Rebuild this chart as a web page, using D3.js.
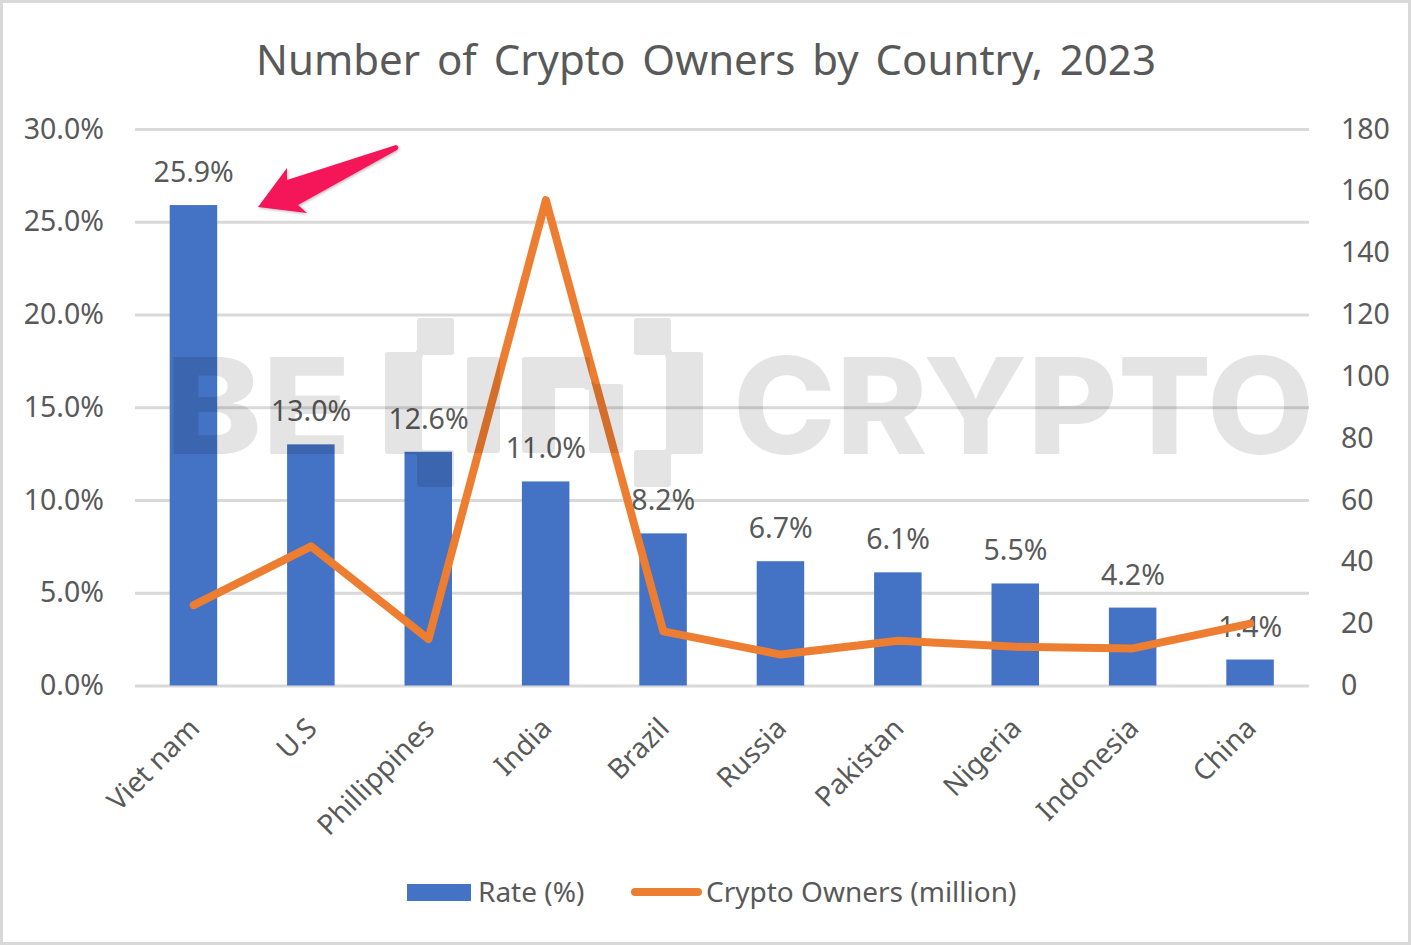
<!DOCTYPE html>
<html>
<head>
<meta charset="utf-8">
<script src="https://cdn.jsdelivr.net/npm/d3@7"></script>
<style>
  html, body { margin: 0; padding: 0; background: #fff; }
  svg { display: block; }
  text { font-family: "Noto Sans", sans-serif; fill: #595959; }
</style>
</head>
<body>
<svg class="canvas" width="1411" height="945"></svg>
<script>
const countries = ["Viet nam", "U.S", "Phillippines", "India", "Brazil", "Russia", "Pakistan", "Nigeria", "Indonesia", "China"];
const rates = [25.9, 13.0, 12.6, 11.0, 8.2, 6.7, 6.1, 5.5, 4.2, 1.4];
const owners = [26, 45, 15, 157, 17.5, 10, 14.5, 12.5, 12, 20];
const rateTicks = [0, 5, 10, 15, 20, 25, 30];
const ownerTicks = [0, 20, 40, 60, 80, 100, 120, 140, 160, 180];

const svg = d3.select(".canvas");
const width = 1411;
const height = 945;
const margin = { top: 129, bottom: 259.5, left: 135, right: 102 };

// outer frame
svg.append("rect")
  .attr("x", 1.5).attr("y", 1.5)
  .attr("width", width - 3).attr("height", height - 3)
  .attr("fill", "#fff")
  .attr("stroke", "#d9d9d9")
  .attr("stroke-width", 3);

svg.append("text")
  .attr("x", 256)
  .attr("y", 75)
  .attr("font-size", 42)
  .attr("word-spacing", 6)
  .text("Number of Crypto Owners by Country, 2023");

const x = d3.scaleBand()
  .domain(countries)
  .range([margin.left, width - margin.right]);

const yRate = d3.scaleLinear().domain([0, 30]).range([height - margin.bottom, margin.top]);
const yOwners = d3.scaleLinear().domain([0, 180]).range([height - margin.bottom, margin.top]);

// gridlines + left axis
const leftAxis = d3.axisLeft(yRate)
  .tickValues(rateTicks)
  .tickSize(-(width - margin.left - margin.right))
  .tickPadding(31)
  .tickFormat((d) => d.toFixed(1) + "%");

const leftGroup = svg.append("g")
  .attr("transform", `translate(${margin.left},0)`)
  .call(leftAxis);
leftGroup.select(".domain").remove();
leftGroup.selectAll("line").attr("stroke", "#d9d9d9").attr("stroke-width", 3);
leftGroup.selectAll("text").attr("font-size", 28.5).attr("fill", "#595959");

const rightAxis = d3.axisRight(yOwners)
  .tickValues(ownerTicks)
  .tickSize(0)
  .tickPadding(32);

const rightGroup = svg.append("g")
  .attr("transform", `translate(${width - margin.right},0)`)
  .call(rightAxis);
rightGroup.select(".domain").remove();
rightGroup.selectAll("text").attr("font-size", 28.5).attr("fill", "#595959");

// bars
svg.append("g")
  .selectAll("rect")
  .data(countries)
  .enter()
  .append("rect")
  .attr("x", (d) => x(d) + x.bandwidth() / 2 - 24)
  .attr("width", 47.5)
  .attr("y", (d, i) => yRate(rates[i]))
  .attr("height", (d, i) => yRate(0) - yRate(rates[i]))
  .attr("fill", "#4472c4");

// bar labels
svg.append("g")
  .selectAll("text")
  .data(countries)
  .enter()
  .append("text")
  .attr("x", (d) => x(d) + x.bandwidth() / 2)
  .attr("y", (d, i) => yRate(rates[i]) - 23)
  .attr("text-anchor", "middle")
  .attr("font-size", 28.5)
  .text((d, i) => rates[i].toFixed(1) + "%");

// owners line
const line = d3.line()
  .x((d, i) => x(countries[i]) + x.bandwidth() / 2)
  .y((d) => yOwners(d));

svg.append("path")
  .datum(owners)
  .attr("d", line)
  .attr("fill", "none")
  .attr("stroke", "#ed7d31")
  .attr("stroke-width", 8)
  .attr("stroke-linecap", "round")
  .attr("stroke-linejoin", "round");

// x labels
svg.append("g")
  .selectAll("text")
  .data(countries)
  .enter()
  .append("text")
  .attr("text-anchor", "end")
  .attr("font-size", 28)
  .attr("transform", (d) => `translate(${x(d) + x.bandwidth() / 2 + 7.5},${730}) rotate(-45)`)
  .text((d) => d);

// legend
svg.append("rect")
  .attr("x", 407).attr("y", 884)
  .attr("width", 64).attr("height", 17)
  .attr("fill", "#4472c4");
svg.append("text").attr("x", 478).attr("y", 902).attr("font-size", 28).text("Rate (%)");
svg.append("line")
  .attr("x1", 635).attr("x2", 698)
  .attr("y1", 892).attr("y2", 892)
  .attr("stroke", "#ed7d31")
  .attr("stroke-width", 8)
  .attr("stroke-linecap", "round");
svg.append("text").attr("x", 706).attr("y", 902).attr("font-size", 28).text("Crypto Owners (million)");

// pink arrow
const defs = svg.append("defs");
const shadow = defs.append("filter").attr("id", "arrowShadow");
shadow.append("feDropShadow")
  .attr("dx", 1).attr("dy", 1)
  .attr("stdDeviation", 1.5)
  .attr("flood-opacity", 0.3);

svg.append("path")
  .attr("d", "M258,207 L287,168 L287,180 L396,145 Q400,147 397,150 L298,205 L307,213 Z")
  .attr("fill", "#f5145a")
  .attr("filter", "url(#arrowShadow)");

// watermark, goes over everything
const mark = svg.append("g").attr("opacity", 0.1);

mark.append("text")
  .attr("x", 165)
  .attr("y", 454)
  .attr("textLength", 186)
  .attr("lengthAdjust", "spacingAndGlyphs")
  .attr("font-size", 134)
  .attr("font-weight", 800)
  .style("font-family", "Inter")
  .style("fill", "#000")
  .text("BE");

mark.append("text")
  .attr("x", 733)
  .attr("y", 454)
  .attr("textLength", 581)
  .attr("lengthAdjust", "spacingAndGlyphs")
  .attr("font-size", 134)
  .attr("font-weight", 800)
  .style("font-family", "Inter")
  .style("fill", "#000")
  .text("CRYPTO");

// logo brackets and block "in", stroke rounds the corners
const bracket = "M420,321 H451 V352 H419 V453 H451 V484 H420 V451 H388 V355 H420 Z";
const logoParts = [
  { d: bracket, transform: null },
  { d: bracket, transform: "translate(1088,0) scale(-1,1)" },
  { d: "M470,360 H497 V450 H470 Z", transform: null },
  { d: "M525,360 H587 V387 H620 V450 H592 V385 H552 V450 H525 Z", transform: null },
];
mark.selectAll("path")
  .data(logoParts)
  .enter()
  .append("path")
  .attr("d", (d) => d.d)
  .attr("transform", (d) => d.transform)
  .attr("fill", "#000")
  .attr("stroke", "#000")
  .attr("stroke-width", 6)
  .attr("stroke-linejoin", "round");
</script>
</body>
</html>
